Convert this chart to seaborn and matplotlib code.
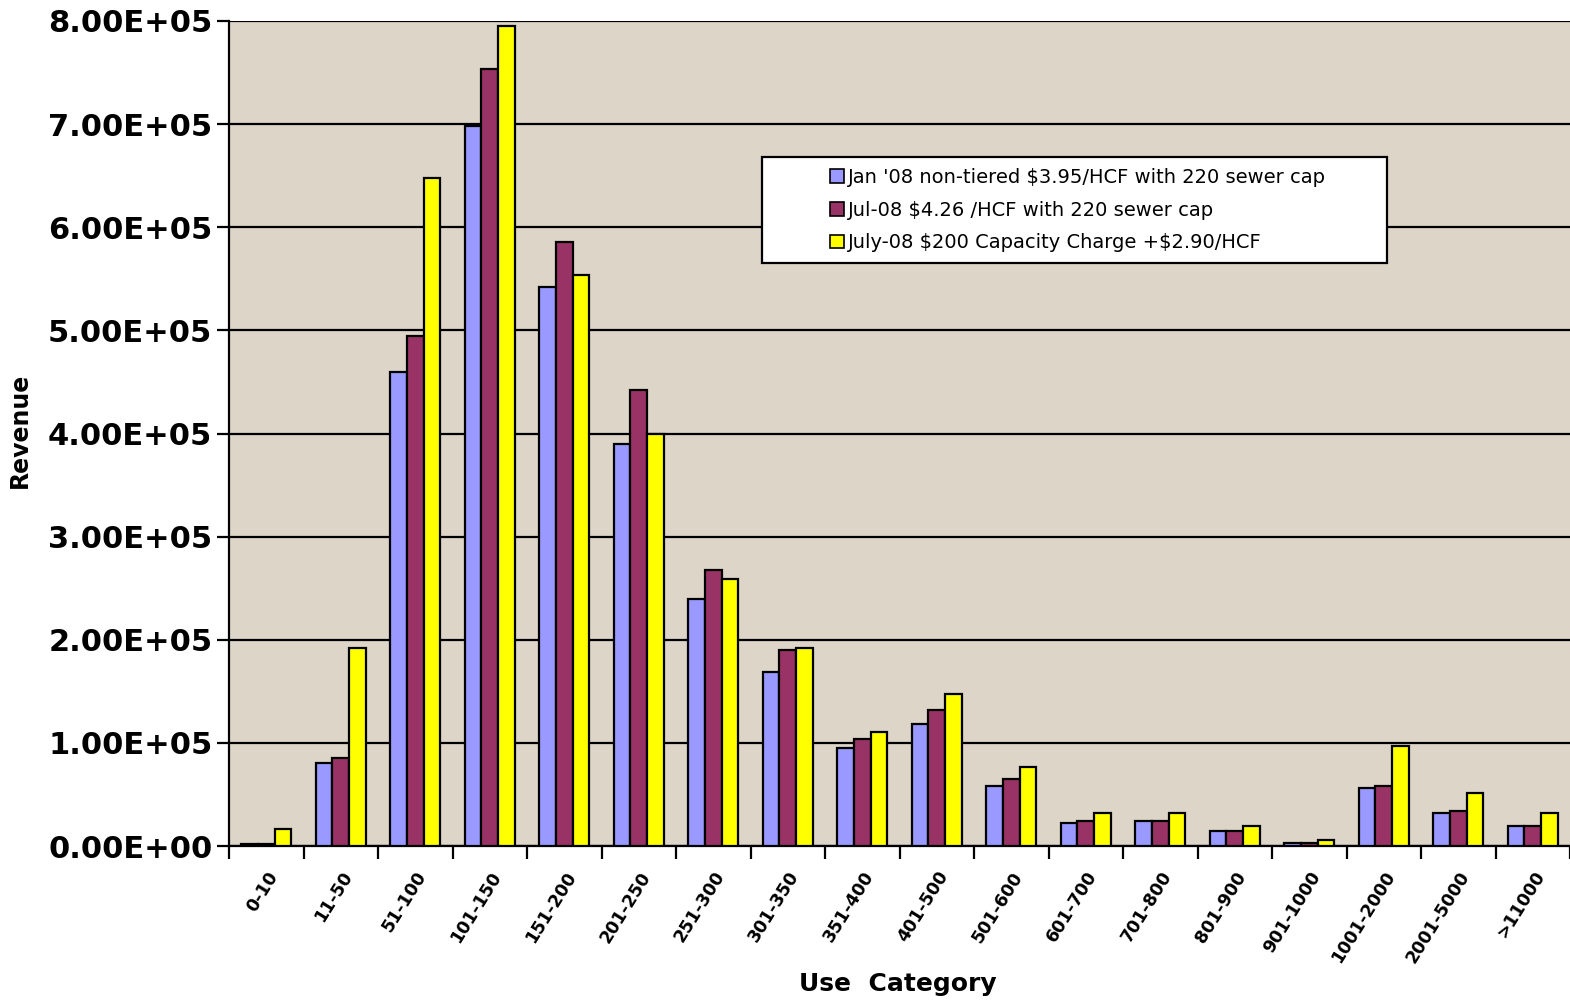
import matplotlib
matplotlib.use("Agg")
import matplotlib.pyplot as plt
from matplotlib.patches import Rectangle
from matplotlib.ticker import FixedLocator, FuncFormatter
import numpy as np
import pandas as pd
import seaborn as sns

# Use categories (HCF)
categories = ["0-10", "11-50", "51-100", "101-150", "151-200", "201-250",
              "251-300", "301-350", "351-400", "401-500", "501-600", "601-700",
              "701-800", "801-900", "901-1000", "1001-2000", "2001-5000", ">11000"]

series_names = ["Jan '08 non-tiered \\$3.95/HCF with 220 sewer cap",
                "Jul-08 \\$4.26 /HCF with 220 sewer cap",
                "July-08 \\$200 Capacity Charge +\\$2.90/HCF"]

# Revenue per category for each rate scenario
rev_jan08 = [2000, 80500, 460000, 698000, 542000, 390000, 240000, 169000, 95000,
             118000, 58000, 22000, 24000, 14800, 3200, 56000, 31700, 19700]
rev_jul08 = [2000, 85000, 495000, 753000, 586000, 442000, 268000, 190000, 104000,
             132000, 65000, 24500, 24000, 14800, 3200, 58000, 34000, 19700]
rev_cap = [16500, 192000, 648000, 795000, 554000, 400000, 259000, 192000, 111000,
           147000, 77000, 31700, 31700, 19700, 5500, 97000, 51000, 31700]

series_colors = ["#9999ff", "#993366", "#ffff00"]
y_ticks = [0, 100000, 200000, 300000, 400000, 500000, 600000, 700000, 800000]

df = pd.DataFrame({
    "category": categories * 3,
    "scenario": [series_names[0]] * len(categories)
                + [series_names[1]] * len(categories)
                + [series_names[2]] * len(categories),
    "revenue": rev_jan08 + rev_jul08 + rev_cap,
})

sns.set_theme(style="white")
plt.rcParams["font.family"] = ["DejaVu Sans"]
plt.rcParams.update({"text.color": "black", "axes.labelcolor": "black",
                     "xtick.color": "black", "ytick.color": "black"})

fig = plt.figure(figsize=(15.7, 10), dpi=100)
ax = fig.add_axes([229 / 1570, 154 / 1000, (1570 - 229) / 1570, (846 - 21) / 1000])
ax.set_facecolor("#dcd5c8")

sns.barplot(data=df, x="category", y="revenue", hue="scenario",
            order=categories, hue_order=series_names,
            palette=series_colors, width=0.67, gap=0,
            edgecolor="black", linewidth=1.6, saturation=1,
            legend=False, ax=ax, zorder=3)

ax.set_xlim(-0.5, len(categories) - 0.5)
ax.set_ylim(0, 800000)

# Horizontal gridlines at each 1e5
ax.yaxis.set_major_locator(FixedLocator(y_ticks))
ax.yaxis.set_major_formatter(FuncFormatter(lambda v, p: f"{v:.2E}"))
ax.grid(axis="y", color="black", linewidth=1.6, zorder=1)
ax.set_axisbelow(True)

for side in ["top", "right"]:
    ax.spines[side].set_visible(False)
for side in ["left", "bottom"]:
    ax.spines[side].set_color("black")
    ax.spines[side].set_linewidth(1.6)

ax.tick_params(axis="y", which="major", direction="out", length=9, width=1.6,
               color="black", pad=3, left=True, labelsize=22)
for lbl in ax.get_yticklabels():
    lbl.set_fontweight("bold")

# Category labels at centers, tick marks at category boundaries
ax.set_xticks(range(len(categories)))
ax.set_xticklabels(categories, rotation=58, ha="right", rotation_mode="anchor",
                   fontsize=12.5, fontweight="bold")
ax.tick_params(axis="x", which="major", length=0, pad=16)
ax.set_xticks(np.arange(-0.5, len(categories), 1.0), minor=True)
ax.tick_params(axis="x", which="minor", direction="out", length=9, width=1.6,
               color="black", bottom=True)

ax.set_xlabel("Use  Category", fontsize=18, fontweight="bold")
ax.set_ylabel("Revenue", fontsize=17, fontweight="bold")
ax.xaxis.label.set_verticalalignment("center")
ax.yaxis.label.set_verticalalignment("center")
ax.xaxis.set_label_coords((898 - 229) / (1570 - 229), -(984 - 846) / (846 - 21))
ax.yaxis.set_label_coords(-(229 - 20) / (1570 - 229), (846 - 430) / (846 - 21))

# Legend with a white framed box
box = Rectangle((762 / 1570, 1 - 263 / 1000), (1387 - 762) / 1570, (263 - 157) / 1000,
                transform=fig.transFigure, facecolor="white", edgecolor="black",
                linewidth=1.6, zorder=5)
fig.patches.append(box)
handles = [Rectangle((0, 0), 1, 1, facecolor=c, edgecolor="black", linewidth=1.2)
           for c in series_colors]
leg = fig.legend(handles, series_names, loc="upper left",
                 bbox_to_anchor=(830 / 1570, 1 - 168 / 1000),
                 frameon=False, fontsize=14, handlelength=0.7,
                 handleheight=0.7, handletextpad=0.2, labelspacing=0.7,
                 borderpad=0, borderaxespad=0)
leg.set_zorder(6)

fig.savefig("out.png", dpi=100, facecolor="white")
